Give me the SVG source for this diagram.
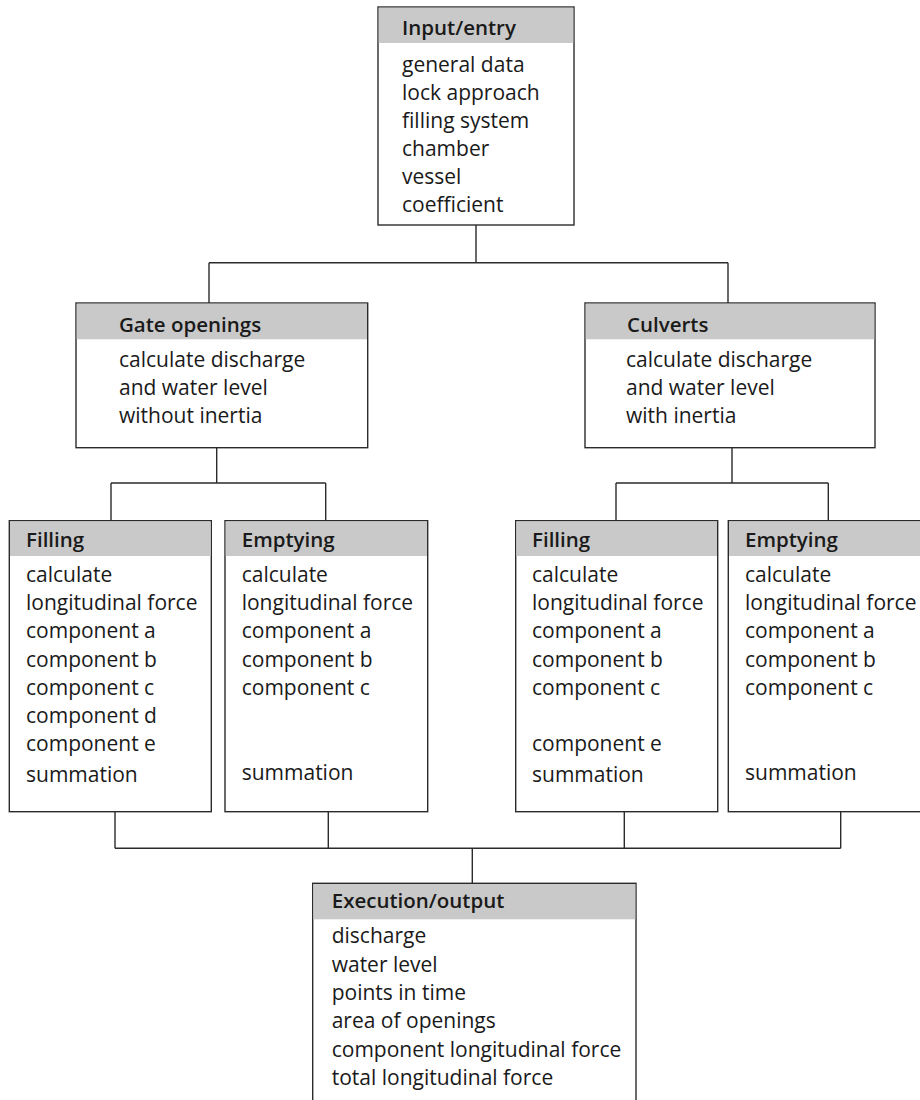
<svg xmlns="http://www.w3.org/2000/svg" width="920" height="1100" viewBox="0 0 920 1100">
<style>
.box{fill:#ffffff;stroke:#2b2b2b;stroke-width:1.4}
.hdr{fill:#c9c9c9}
.t{font-family:"Open Sans","Noto Sans",sans-serif;font-size:21px;fill:#1a1a1a}
.h{font-family:"Open Sans","Noto Sans",sans-serif;font-size:20.5px;font-weight:600;fill:#1a1a1a}
.c{fill:none;stroke:#2b2b2b;stroke-width:1.4}
</style>
<rect width="920" height="1100" fill="#ffffff"/>
<g id="connectors">
<path class="c" d="M476 225 V262.7 M209 262.7 H728 M209 262.7 V303 M728 262.7 V303"/>
<path class="c" d="M216.7 447.7 V483 M111 483 H325.7 M111 483 V520.7 M325.7 483 V520.7"/>
<path class="c" d="M732 447.7 V483 M616 483 H828.3 M616 483 V520.7 M828.3 483 V520.7"/>
<path class="c" d="M115 811.7 V848.3 M328.3 811.7 V848.3 M624.3 811.7 V848.3 M840.7 811.7 V848.3 M115 848.3 H840.7 M472.3 848.3 V883.3"/>
</g>
<g id="input">
<rect class="box" x="378" y="7" width="196" height="218"/>
<rect class="hdr" x="378.7" y="7.7" width="194.6" height="35.3"/>
<text class="h" x="402" y="35">Input/entry</text>
<text class="t" x="402" y="72">general data</text>
<text class="t" x="402" y="100">lock approach</text>
<text class="t" x="402" y="128">filling system</text>
<text class="t" x="402" y="156">chamber</text>
<text class="t" x="402" y="184">vessel</text>
<text class="t" x="402" y="212">coefficient</text>
</g>
<g id="gate">
<rect class="box" x="76" y="303" width="291.7" height="144.7"/>
<rect class="hdr" x="76.7" y="303.7" width="290.3" height="35.6"/>
<text class="h" x="119" y="331.5">Gate openings</text>
<text class="t" x="119" y="366.7">calculate discharge</text>
<text class="t" x="119" y="395">and water level</text>
<text class="t" x="119" y="423">without inertia</text>
</g>
<g id="culverts">
<rect class="box" x="585" y="303" width="290" height="144.7"/>
<rect class="hdr" x="585.7" y="303.7" width="288.6" height="35.6"/>
<text class="h" x="627" y="331.5">Culverts</text>
<text class="t" x="626" y="366.7">calculate discharge</text>
<text class="t" x="626" y="395">and water level</text>
<text class="t" x="626" y="423">with inertia</text>
</g>
<g id="filling-gate">
<rect class="box" x="9.3" y="520.7" width="202" height="291"/>
<rect class="hdr" x="10" y="521.4" width="200.6" height="34.6"/>
<text class="h" x="26" y="546.7">Filling</text>
<text class="t" x="26" y="581.7">calculate</text>
<text class="t" x="26" y="610">longitudinal force</text>
<text class="t" x="26" y="638">component a</text>
<text class="t" x="26" y="666.5">component b</text>
<text class="t" x="26" y="695">component c</text>
<text class="t" x="26" y="722.7">component d</text>
<text class="t" x="26" y="751">component e</text>
<text class="t" x="26" y="782">summation</text>
</g>
<g id="emptying-gate">
<rect class="box" x="225" y="520.7" width="202.7" height="291"/>
<rect class="hdr" x="225.7" y="521.4" width="201.3" height="34.6"/>
<text class="h" x="241.7" y="546.7">Emptying</text>
<text class="t" x="241.7" y="581.7">calculate</text>
<text class="t" x="241.7" y="610">longitudinal force</text>
<text class="t" x="241.7" y="638">component a</text>
<text class="t" x="241.7" y="666.5">component b</text>
<text class="t" x="241.7" y="695">component c</text>
<text class="t" x="241.7" y="780">summation</text>
</g>
<g id="filling-culverts">
<rect class="box" x="515.7" y="520.7" width="202" height="291"/>
<rect class="hdr" x="516.4" y="521.4" width="200.6" height="34.6"/>
<text class="h" x="532" y="546.7">Filling</text>
<text class="t" x="532" y="581.7">calculate</text>
<text class="t" x="532" y="610">longitudinal force</text>
<text class="t" x="532" y="638">component a</text>
<text class="t" x="532" y="666.5">component b</text>
<text class="t" x="532" y="695">component c</text>
<text class="t" x="532" y="751">component e</text>
<text class="t" x="532" y="782">summation</text>
</g>
<g id="emptying-culverts">
<rect class="box" x="728.3" y="520.7" width="202" height="291"/>
<rect class="hdr" x="729" y="521.4" width="200" height="34.6"/>
<text class="h" x="745" y="546.7">Emptying</text>
<text class="t" x="745" y="581.7">calculate</text>
<text class="t" x="745" y="610">longitudinal force</text>
<text class="t" x="745" y="638">component a</text>
<text class="t" x="745" y="666.5">component b</text>
<text class="t" x="745" y="695">component c</text>
<text class="t" x="745" y="780">summation</text>
</g>
<g id="output">
<rect class="box" x="312.7" y="883.3" width="323.3" height="230"/>
<rect class="hdr" x="313.4" y="884" width="321.9" height="35.3"/>
<text class="h" x="331.7" y="908">Execution/output</text>
<text class="t" x="331.7" y="943.3">discharge</text>
<text class="t" x="331.7" y="971.7">water level</text>
<text class="t" x="331.7" y="1000">points in time</text>
<text class="t" x="331.7" y="1028">area of openings</text>
<text class="t" x="331.7" y="1056.5">component longitudinal force</text>
<text class="t" x="331.7" y="1085">total longitudinal force</text>
</g>
</svg>
